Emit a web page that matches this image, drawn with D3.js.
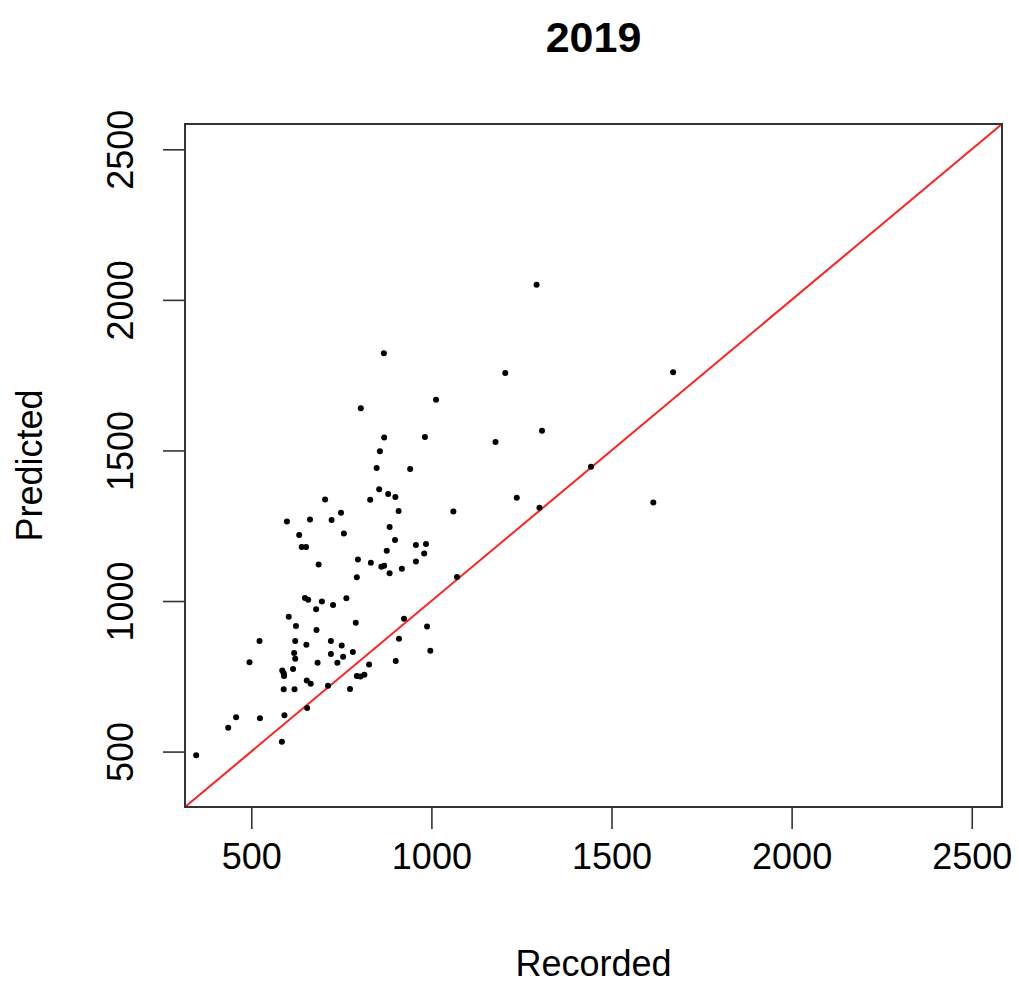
<!DOCTYPE html>
<html>
<head>
<meta charset="utf-8">
<script src="https://cdn.jsdelivr.net/npm/d3@7"></script>
<style>
  body { margin: 0; background: #fff; }
  text { font-family: "Liberation Sans", Arial, Helvetica, sans-serif; fill: #000; }
</style>
</head>
<body>
<div id="container"></div>
<script>
// values
var recorded = [347, 436, 458, 524, 495, 523, 585, 592, 590, 620, 655, 713, 774, 586, 590, 591,
  616, 622, 619, 622, 604, 624, 653, 654, 665, 684, 681, 680, 649, 658, 696, 727, 764, 790,
  721, 751, 721, 755, 739, 782, 793, 803, 814, 827, 901, 910, 924, 988, 997, 1071,
  599, 633, 640, 652, 663, 687, 705, 723, 749, 757, 796, 793, 830, 832, 855, 880, 900, 909,
  884, 899, 876, 861, 869, 884, 918, 957, 985, 980, 957, 1061,
  868, 804, 1013, 869, 982, 857, 848, 941, 1292, 1205, 1671, 1178, 1307, 1443, 1237, 1300, 1616];
var predicted = [488, 579, 614, 611, 797, 867, 533, 621, 707, 707, 645, 719, 708, 769, 760, 751,
  774, 808, 827, 867, 948, 917, 855, 736, 725, 795, 904, 973, 1010, 1004, 998, 987, 1009, 928,
  867, 852, 824, 815, 795, 831, 751, 749, 755, 789, 801, 875, 941, 915, 835, 1080,
  1264, 1219, 1179, 1179, 1271, 1121, 1337, 1269, 1293, 1224, 1138, 1079, 1336, 1127, 1371, 1355, 1345, 1299,
  1246, 1203, 1167, 1114, 1117, 1092, 1107, 1186, 1189, 1158, 1131, 1297,
  1823, 1640, 1668, 1543, 1545, 1497, 1442, 1438, 2050, 1757, 1760, 1528, 1565, 1446, 1343, 1310, 1327];
var xTicks = [500, 1000, 1500, 2000, 2500];
var yTicks = [500, 1000, 1500, 2000, 2500];
var lims = [316, 2584];

var margin = {top: 124, right: 17, bottom: 179, left: 185},
    width = 1019 - margin.left - margin.right,
    height = 986 - margin.top - margin.bottom;

var svg = d3.select("#container")
  .append("svg")
    .attr("width", width + margin.left + margin.right)
    .attr("height", height + margin.top + margin.bottom)
  .append("g")
    .attr("transform", "translate(" + margin.left + "," + margin.top + ")");

var x = d3.scaleLinear().domain(lims).range([0, width]);
var y = d3.scaleLinear().domain(lims).range([height, 0]);

// x axis
var xa = svg.append("g")
  .attr("transform", "translate(0," + height + ")")
  .call(d3.axisBottom(x).tickValues(xTicks).tickSize(22).tickSizeOuter(0).tickFormat(d3.format("d")));
xa.select(".domain").remove();
xa.selectAll("line").attr("stroke", "#333").attr("stroke-width", 1.6);
xa.selectAll("text")
  .attr("y", 62).attr("dy", null)
  .style("font-size", "36px");

// y axis, labels turned like in R
var ya = svg.append("g")
  .call(d3.axisLeft(y).tickValues(yTicks).tickSize(22).tickSizeOuter(0).tickFormat(d3.format("d")));
ya.select(".domain").remove();
ya.selectAll("line").attr("stroke", "#333").attr("stroke-width", 1.6);
ya.selectAll("text")
  .attr("x", 0).attr("y", -52).attr("dy", null)
  .attr("transform", "rotate(-90)")
  .style("text-anchor", "middle")
  .style("font-size", "36px");

// 1:1 line
svg.append("line")
  .attr("x1", x(lims[0])).attr("y1", y(lims[0]))
  .attr("x2", x(lims[1])).attr("y2", y(lims[1]))
  .attr("stroke", "#ff2020")
  .attr("stroke-width", 2);

svg.append("g")
  .selectAll("circle")
  .data(recorded)
  .enter()
  .append("circle")
    .attr("cx", d => x(d))
    .attr("cy", (d, i) => y(predicted[i]))
    .attr("r", 3)
    .style("fill", "#000");

// box
svg.append("rect")
  .attr("width", width).attr("height", height)
  .attr("fill", "none")
  .attr("stroke", "#333")
  .attr("stroke-width", 2);

svg.append("text")
  .attr("text-anchor", "middle")
  .attr("x", width / 2)
  .attr("y", 52 - margin.top)
  .style("font-size", "43px")
  .style("font-weight", "bold")
  .text("2019");

svg.append("text")
  .attr("text-anchor", "middle")
  .attr("x", width / 2)
  .attr("y", 976 - margin.top)
  .style("font-size", "36px")
  .text("Recorded");

svg.append("text")
  .attr("text-anchor", "middle")
  .attr("transform", "rotate(-90)")
  .attr("x", -height / 2)
  .attr("y", 42 - margin.left)
  .style("font-size", "36px")
  .text("Predicted");
</script>
</body>
</html>
